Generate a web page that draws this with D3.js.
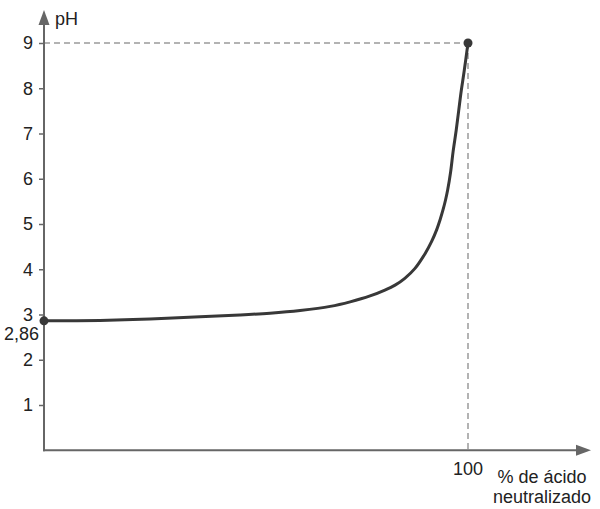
<!DOCTYPE html>
<html>
<head>
<meta charset="utf-8">
<script src="https://cdn.jsdelivr.net/npm/d3@7"></script>
<style>
  html, body { margin: 0; padding: 0; background: #fff; }
  svg { display: block; }
  text { font-family: "Liberation Sans", Arial, sans-serif; fill: #222; }
</style>
</head>
<body>
<svg id="chart" width="600" height="509"></svg>
<script>
// Data
const percentNeutralized = [0, 13.2, 25.0, 36.8, 46.2, 53.3, 60.4, 67.5, 72.2, 76.9, 80.4, 82.8, 85.1, 87.5, 89.9, 91.4, 92.6, 93.4, 94.1, 94.7, 95.2, 95.9, 96.5, 97.2, 97.8, 98.4, 99.1, 100];
const pHValues          = [2.86, 2.87, 2.90, 2.95, 2.99, 3.03, 3.09, 3.18, 3.28, 3.41, 3.54, 3.65, 3.80, 4.02, 4.35, 4.61, 4.87, 5.09, 5.31, 5.53, 5.75, 6.15, 6.61, 7.06, 7.50, 7.94, 8.38, 9.0];
const yTicks = [1, 2, 3, 4, 5, 6, 7, 8, 9];
const xTicks = [100];
const startLabel = "2,86";
const yTitle = "pH";
const xTitle = ["% de ácido", "neutralizado"];

const svg = d3.select("#chart");
const x = d3.scaleLinear().domain([0, 100]).range([44, 468]);
const y = d3.scaleLinear().domain([0, 9]).range([450.25, 43]);

const axisColor = "#666";

// dashed guides to the end point
const end = { x: percentNeutralized[percentNeutralized.length - 1], y: pHValues[pHValues.length - 1] };
svg.append("line")
  .attr("x1", x(0)).attr("x2", x(end.x))
  .attr("y1", y(end.y)).attr("y2", y(end.y))
  .attr("stroke", "#9a9a9a").attr("stroke-width", 1.5).attr("stroke-dasharray", "6,4");
svg.append("line")
  .attr("x1", x(end.x)).attr("x2", x(end.x))
  .attr("y1", y(end.y)).attr("y2", y(0))
  .attr("stroke", "#9a9a9a").attr("stroke-width", 1.5).attr("stroke-dasharray", "6,4");

// Y axis
const yAxis = d3.axisLeft(y).tickValues(yTicks).tickSize(5).tickSizeOuter(0).tickPadding(6).tickFormat(d3.format("d"));
const yg = svg.append("g").attr("transform", `translate(${x(0)},0)`).call(yAxis);
yg.select(".domain").remove();
yg.selectAll(".tick line").attr("stroke", axisColor).attr("stroke-width", 1.5);
yg.selectAll(".tick text").attr("font-size", 18).attr("fill", "#222")
  .attr("font-family", "'Liberation Sans', Arial, sans-serif");

// Axis lines with arrows
svg.append("line").attr("x1", x(0)).attr("x2", x(0)).attr("y1", y(0) + 1).attr("y2", 22)
  .attr("stroke", axisColor).attr("stroke-width", 2);
svg.append("path").attr("d", `M${x(0)},10 L${x(0) - 5.5},25 L${x(0) + 5.5},25 Z`).attr("fill", axisColor);
svg.append("line").attr("x1", x(0) - 1).attr("x2", 578).attr("y1", y(0)).attr("y2", y(0))
  .attr("stroke", axisColor).attr("stroke-width", 2);
svg.append("path").attr("d", `M591,${y(0)} L576,${y(0) - 5.5} L576,${y(0) + 5.5} Z`).attr("fill", axisColor);

// X tick label
svg.selectAll(".xt").data(xTicks).enter().append("text")
  .attr("x", d => x(d)).attr("y", 475).attr("text-anchor", "middle").attr("font-size", 18)
  .text(d => d);

// Titles
svg.append("text").attr("x", 55).attr("y", 25).attr("font-size", 18).text(yTitle);
const xt = svg.append("text").attr("x", 542).attr("y", 482.5).attr("text-anchor", "middle").attr("font-size", 18);
xt.append("tspan").attr("x", 542).attr("y", 482.5).text(xTitle[0]);
xt.append("tspan").attr("x", 542).attr("y", 503).text(xTitle[1]);

// start value label
svg.append("text").attr("x", 39).attr("y", 340).attr("text-anchor", "end").attr("font-size", 18).text(startLabel);

// Curve
const data = percentNeutralized.map((p, i) => ({ p, ph: pHValues[i] }));
const line = d3.line().x(d => x(d.p)).y(d => y(d.ph)).curve(d3.curveCatmullRom.alpha(0.5));
svg.append("path").datum(data).attr("d", line)
  .attr("fill", "none").attr("stroke", "#383838").attr("stroke-width", 3).attr("stroke-linecap", "round");

// End points
svg.selectAll(".pt").data([data[0], data[data.length - 1]]).enter().append("circle")
  .attr("cx", d => x(d.p)).attr("cy", d => y(d.ph)).attr("r", 4.5).attr("fill", "#383838");
</script>
</body>
</html>
